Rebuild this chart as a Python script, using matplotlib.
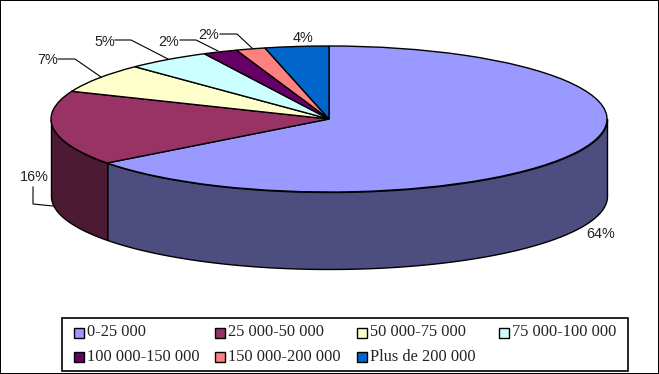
import numpy as np
import matplotlib
matplotlib.use('Agg')
import matplotlib.pyplot as plt
from matplotlib.patches import Rectangle

W, H = 659, 374
CX, CY, RX, RY, DEPTH = 329, 119, 278, 73, 77

# slice sizes (printed labels are rounded)
categories = ['0-25 000', '25 000-50 000', '50 000-75 000', '75 000-100 000',
              '100 000-150 000', '150 000-200 000', 'Plus de 200 000']
values = [64.7, 16.5, 6.5, 4.9, 2.0, 1.7, 3.7]
labels = ['64%', '16%', '7%', '5%', '2%', '2%', '4%']
colors = ['#9999FF', '#993366', '#FFFFCC', '#CCFFFF', '#660066', '#FF8080', '#0066CC']
side_colors = ['#4D4D80', '#4D1A33']

# label centres and leader lines, in picture pixels
label_pos = [(601, 234), (34, 177), (48, 60), (105, 42), (169, 42), (209, 35), (303, 38)]
leaders = [None,
           [(33, 187), (33, 204), (53, 206)],
           [(58, 59), (75, 59), (101, 77)],
           [(115, 40), (131, 40), (168, 59)],
           [(180, 40), (196, 40), (218, 51)],
           [(220, 34), (237, 34), (252, 48)],
           None]

# legend layout, in picture pixels
legend_box = (62, 318, 628, 371)
legend_cols = [73.5, 215, 357, 499]
legend_rows = [332.5, 357]

def px(x, y):
    return (x - CX) / RX, (CY - y) / RY

def px_rect(left, top, right, bottom, **kw):
    x0, y0 = px(left, bottom)
    x1, y1 = px(right, top)
    ax.add_patch(Rectangle((x0, y0), x1 - x0, y1 - y0, **kw))

fig = plt.figure(figsize=(W / 100, H / 100), dpi=100)
ax = fig.add_axes([0, 0, 1, 1])

total = sum(values)
ends = 90 - 360 * np.cumsum(values) / total

# side wall of the two front slices
theta = np.radians(np.linspace(0, ends[0], 300))
ax.fill_between(np.cos(theta), np.sin(theta), np.sin(theta) - DEPTH / RY,
                facecolor=side_colors[0], edgecolor='black', linewidth=1)
theta = np.radians(np.linspace(ends[0], -180, 100))
ax.fill_between(np.cos(theta), np.sin(theta), np.sin(theta) - DEPTH / RY,
                facecolor=side_colors[1], edgecolor='black', linewidth=1)

ax.pie(values, colors=colors, startangle=90, counterclock=False, radius=1,
       wedgeprops={'edgecolor': 'black', 'linewidth': 1})
ax.set_aspect('auto')
ax.set_xlim(px(0, 0)[0], px(W, 0)[0])
ax.set_ylim(px(0, H)[1], px(0, 0)[1])
ax.set_axis_off()

for lab, (x, y), line in zip(labels, label_pos, leaders):
    tx, ty = px(x, y)
    ax.text(tx, ty, lab, ha='center', va='center', fontsize=10.4,
            family='Liberation Sans', color='#222222')
    if line:
        pts = [px(a, b) for a, b in line]
        ax.plot([p[0] for p in pts], [p[1] for p in pts], color='black', lw=0.8)

# legend
px_rect(*legend_box, facecolor='white', edgecolor='black', linewidth=1.2)
for i, (name, col) in enumerate(zip(categories, colors)):
    lx = legend_cols[i % 4]
    ly = legend_rows[i // 4]
    px_rect(lx, ly - 5, lx + 10, ly + 5, facecolor=col, edgecolor='black', linewidth=1)
    tx, ty = px(lx + 13.5, ly)
    ax.text(tx, ty, name, ha='left', va='center', fontsize=11.8,
            family='Liberation Serif', color='#222222')

# black picture border, heavier on the right and bottom
px_rect(0, 0, W, 1, facecolor='black', edgecolor='none')
px_rect(0, 0, 1, H, facecolor='black', edgecolor='none')
px_rect(W - 1.5, 0, W, H, facecolor='black', edgecolor='none')
px_rect(0, H - 1.5, W, H, facecolor='black', edgecolor='none')

fig.savefig('out.png', dpi=100)
